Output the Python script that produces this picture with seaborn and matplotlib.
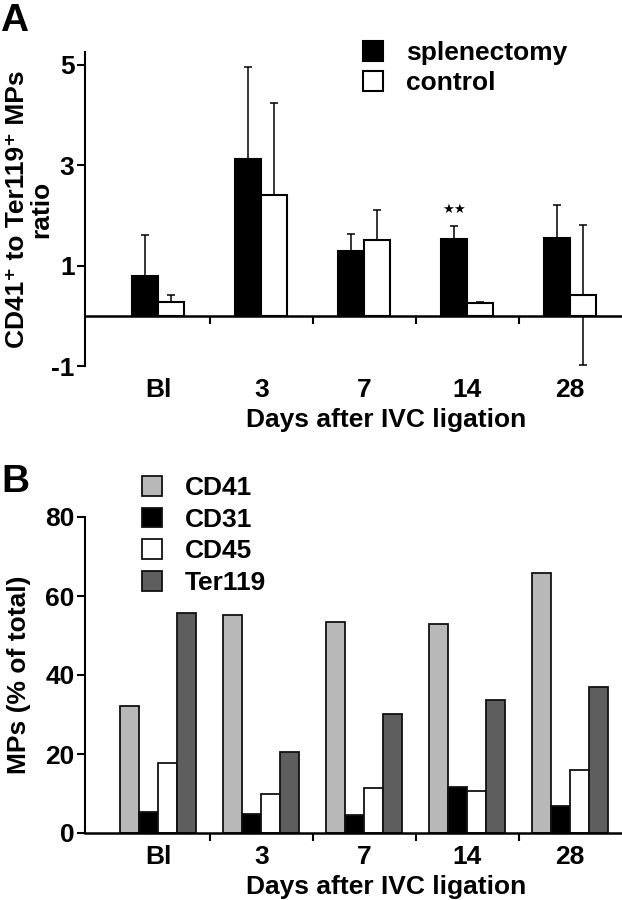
import seaborn as sns
import matplotlib.pyplot as plt
import pandas as pd

days = ['Bl', '3', '7', '14', '28']

# A: CD41+/Ter119+ MPs ratio (mean, SD)
sple_mean = [0.80, 3.12, 1.28, 1.52, 1.55]
sple_sd = [0.80, 1.83, 0.34, 0.27, 0.66]
ctrl_mean = [0.28, 2.40, 1.51, 0.26, 0.41]
ctrl_sd = [0.14, 1.83, 0.60, 0.02, 1.40]

# B: MPs (% of total)
cd41 = [32.1, 55.3, 53.3, 52.8, 65.9]
cd31 = [5.2, 4.9, 4.5, 11.7, 6.9]
cd45 = [17.6, 9.9, 11.4, 10.6, 15.9]
ter119 = [55.8, 20.5, 30.1, 33.6, 36.9]

sns.set_style("ticks", {"axes.edgecolor": "black", "text.color": "black",
                        "axes.labelcolor": "black", "xtick.color": "black",
                        "ytick.color": "black"})
plt.rcParams['font.family'] = ['Liberation Sans', 'DejaVu Sans']
plt.rcParams['font.weight'] = 'bold'
plt.rcParams['axes.labelweight'] = 'bold'
plt.rcParams['axes.unicode_minus'] = False
fs = 19

dfA = pd.DataFrame({'day': days * 2,
                    'group': ['splenectomy'] * 5 + ['control'] * 5,
                    'ratio': sple_mean + ctrl_mean})
dfB = pd.DataFrame({'day': days * 4,
                    'marker': ['CD41'] * 5 + ['CD31'] * 5 + ['CD45'] * 5 + ['Ter119'] * 5,
                    'pct': cd41 + cd31 + cd45 + ter119})

fig = plt.figure(figsize=(6.22, 9), dpi=100)
axA = fig.add_axes([85 / 622, 1 - 366 / 900, 537 / 622, 314 / 900])
axB = fig.add_axes([85 / 622, 1 - 833 / 900, 537 / 622, 316 / 900])

# ---------------- panel A ----------------
sns.barplot(data=dfA, x='day', y='ratio', hue='group',
            palette={'splenectomy': 'black', 'control': 'white'},
            edgecolor='black', linewidth=1.5, width=0.505,
            errorbar=None, ax=axA, zorder=2)
for cont, m, sd, z in zip(axA.containers, [sple_mean, ctrl_mean],
                          [sple_sd, ctrl_sd], [3, 1]):
    xs = [b.get_x() + b.get_width() / 2 for b in cont]
    axA.errorbar(xs, m, yerr=sd, fmt='none', ecolor='black',
                 elinewidth=1.1, capsize=3.2, capthick=1.1, zorder=z)
b14 = axA.containers[0][3]
axA.text(b14.get_x() + b14.get_width() / 2, 2.11, '★★', ha='center',
         va='center', fontsize=9.5, family='DejaVu Sans')

axA.set_xlim(-0.713, 4.505)
axA.set_ylim(-1, 5.25)
axA.set_yticks([-1, 1, 3, 5])
axA.spines['bottom'].set_position(('data', 0))
axA.set_xticks(range(5), days)
axA.set_xticks([0.5, 1.5, 2.5, 3.5], minor=True)
axA.tick_params(axis='x', which='major', length=0, pad=45, labelsize=fs)
axA.set_xlabel('Days after IVC ligation', fontsize=fs, x=0.56, labelpad=4)
axA.set_ylabel('CD41⁺ to Ter119⁺ MPs\nratio', fontsize=fs, linespacing=1.0)
axA.yaxis.set_label_coords(-0.06, 0.5)
leg = axA.legend(loc='upper left', bbox_to_anchor=(363 / 622, 1 - 41 / 900),
                 bbox_transform=fig.transFigure, frameon=False, fontsize=fs,
                 handlelength=0.77, handleheight=0.77, handletextpad=0.85,
                 labelspacing=0.22, borderpad=0, borderaxespad=0)
for h in leg.legend_handles:
    h.set_edgecolor('black')
    h.set_linewidth(1.5)

# ---------------- panel B ----------------
sns.barplot(data=dfB, x='day', y='pct', hue='marker',
            palette={'CD41': '#b8b8b8', 'CD31': 'black', 'CD45': 'white', 'Ter119': '#5e5e5e'},
            edgecolor='#111111', linewidth=1.3, width=0.74,
            errorbar=None, ax=axB, zorder=2)
axB.set_xlim(-0.713, 4.505)
axB.set_ylim(0, 80)
axB.set_yticks([0, 20, 40, 60, 80])
axB.set_xticks(range(5), days)
axB.set_xticks([0.5, 1.5, 2.5, 3.5], minor=True)
axB.tick_params(axis='x', which='major', length=0, pad=9, labelsize=fs)
axB.set_xlabel('Days after IVC ligation', fontsize=fs, x=0.56, labelpad=4)
axB.set_ylabel('MPs (% of total)', fontsize=fs)
axB.yaxis.set_label_coords(-0.1, 0.5)
leg = axB.legend(loc='upper left', bbox_to_anchor=(142 / 622, 1 - 476 / 900),
                 bbox_transform=fig.transFigure, frameon=False, fontsize=fs,
                 handlelength=0.77, handleheight=0.77, handletextpad=0.85,
                 labelspacing=0.29, borderpad=0, borderaxespad=0)
for h in leg.legend_handles:
    h.set_edgecolor('#111111')
    h.set_linewidth(1.3)

for ax in (axA, axB):
    sns.despine(ax=ax)
    ax.spines['left'].set_linewidth(1.5)
    ax.spines['bottom'].set_linewidth(1.8)
    ax.tick_params(axis='y', length=6, width=1.5, pad=1.5, labelsize=fs)
    ax.tick_params(axis='x', which='minor', length=6, width=1.5, direction='out')
    ax.set_facecolor('white')

fig.text(0.0, 1 - 3 / 900, 'A', fontsize=28, fontweight='bold', va='top')
fig.text(0.003, 1 - 464 / 900, 'B', fontsize=28, fontweight='bold', va='top')

fig.savefig('out.png', dpi=100)
